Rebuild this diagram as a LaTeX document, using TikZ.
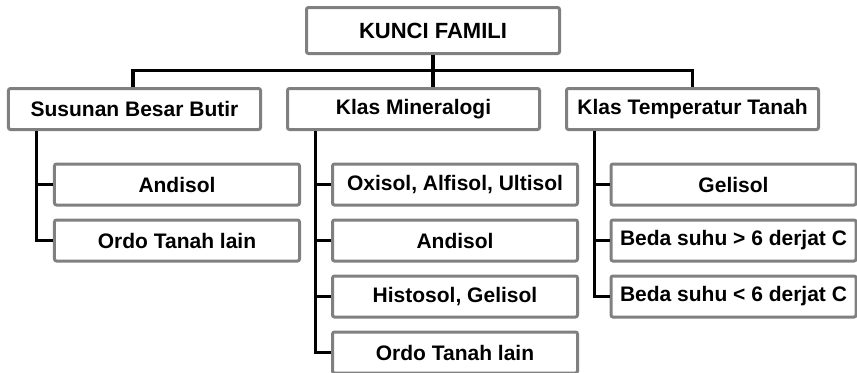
\documentclass[tikz,border=0pt]{standalone}
\usepackage{fontspec}
\setmainfont{Liberation Sans}
\begin{document}
\begin{tikzpicture}[x=1bp,y=-1bp,
  box/.style={draw=boxgray, line width=3bp, fill=white, rounded corners=2bp,
    inner sep=0pt, font=\bfseries\fontsize{21bp}{25bp}\selectfont},
  lvone/.style={box, minimum width=252bp, minimum height=41bp},
  lvtwo/.style={box, minimum width=245bp, minimum height=41bp},
  conn/.style={draw=black, line width=3.5bp}]
\definecolor{boxgray}{RGB}{128,128,128}
\useasboundingbox (0,0) rectangle (857,372);
\begin{scope}
\clip (0,0) rectangle (857,372);
% top
\node[box, minimum width=253bp, minimum height=46bp, font=\bfseries\fontsize{22bp}{26bp}\selectfont] (top) at (433,30.5) {KUNCI FAMILI};
% level 1
\node[lvone] (sbb) at (134.5,109) {Susunan Besar Butir};
\node[lvone] (km)  at (413.5,109) {Klas Mineralogi};
\node[lvone] (ktt) at (692.5,109) {Klas Temperatur Tanah};
% level 2 col 1
\node[lvtwo] (a1) at (177,184.5) {Andisol};
\node[lvtwo] (a2) at (177,240.5) {Ordo Tanah lain};
% col 2
\node[lvtwo] (b1) at (455,184.5) {Oxisol, Alfisol, Ultisol};
\node[lvtwo] (b2) at (455,240.5) {Andisol};
\node[lvtwo] (b3) at (455,296.5) {Histosol, Gelisol};
\node[lvtwo] (b4) at (455,352.5) {Ordo Tanah lain};
% col 3
\node[lvtwo] (c1) at (733.5,184.5) {Gelisol};
\node[lvtwo] (c2) at (733.5,240.5) {Beda suhu > 6 derjat C};
\node[lvtwo] (c3) at (733.5,296.5) {Beda suhu < 6 derjat C};
% connectors top
\coordinate (bar) at (0,70.5);
\draw[conn] (top.south) -- (top.south |- km.north);
\draw[conn] ([xshift=-1.5bp]sbb.north) |- (bar -| ktt.north) -- (ktt.north);
% column 1
\coordinate (x1) at ([xshift=29.5bp]sbb.south west);
\draw[conn] (x1) |- (a2.west);
\draw[conn] (x1 |- a1.west) -- (a1.west);
% column 2
\coordinate (x2) at ([xshift=29.5bp]km.south west);
\draw[conn] (x2) |- (b4.west);
\draw[conn] (x2 |- b1.west) -- (b1.west);
\draw[conn] (x2 |- b2.west) -- (b2.west);
\draw[conn] (x2 |- b3.west) -- (b3.west);
% column 3
\coordinate (x3) at ([xshift=29.5bp]ktt.south west);
\draw[conn] (x3) |- (c3.west);
\draw[conn] (x3 |- c1.west) -- (c1.west);
\draw[conn] (x3 |- c2.west) -- (c2.west);
\end{scope}
\end{tikzpicture}
\end{document}
